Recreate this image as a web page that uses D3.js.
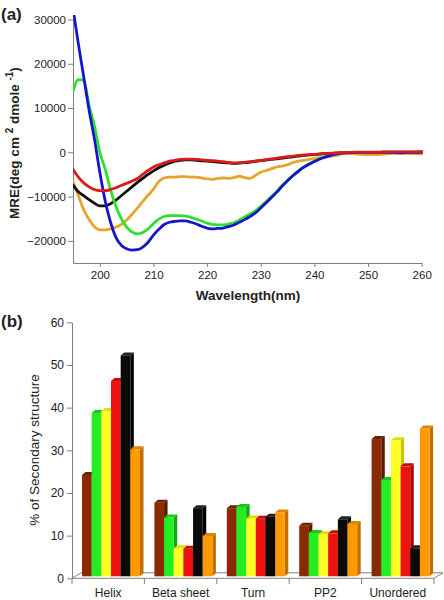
<!DOCTYPE html>
<html><head><meta charset="utf-8">
<script src="https://cdn.jsdelivr.net/npm/d3@7"></script>
<style>body{margin:0;background:#fff} text{font-family:"Liberation Sans",Arial,sans-serif;fill:#222}</style>
</head><body><svg id="c" width="444" height="600"></svg>
<script>
// ---------- Panel (a) data ----------
const wavelengths = [195,196,197,198,199,200,201,202,203,204,205,206,207,208,209,210,211,212,213,214,215,216,217,218,219,220,221,222,223,224,225,226,227,228,229,230,231,232,233,234,235,236,237,238,239,240,241,242,243,244,245,246,248,250,252,254,256,258,260];
const blueMRE = [32500,24500,17000,9500,3000,-4500,-11000,-15800,-19200,-21000,-21800,-22100,-22000,-21400,-20300,-18700,-17400,-16300,-15800,-15600,-15500,-15500,-15800,-16200,-16700,-17100,-17300,-17200,-17100,-16800,-16400,-15800,-15200,-14500,-13700,-12600,-11400,-10200,-9000,-7600,-6400,-5300,-4300,-3400,-2700,-2100,-1500,-1100,-700,-400,-200,-100,0,0,0,0,-100,0,0];
const greenMRE = [13700,16400,16300,10500,6000,0,-3800,-8500,-12200,-15000,-16900,-18000,-18400,-18100,-17300,-16100,-15100,-14500,-14300,-14300,-14300,-14400,-14700,-15100,-15500,-16000,-16300,-16400,-16400,-16200,-15900,-15300,-14600,-13900,-13200,-12200,-11100,-10000,-8800,-7500,-6300,-5200,-4200,-3300,-2600,-2000,-1400,-1000,-600,-300,-150,-50,0,0,0,0,0,0,0];
const blackMRE = [-7400,-8900,-9800,-10700,-11500,-12100,-12100,-11600,-10800,-9800,-8800,-7800,-6800,-5900,-5000,-4200,-3500,-2900,-2400,-2000,-1800,-1700,-1700,-1800,-1900,-2000,-2100,-2200,-2300,-2400,-2500,-2450,-2350,-2200,-2050,-1900,-1750,-1600,-1450,-1300,-1150,-1000,-850,-700,-600,-500,-400,-300,-250,-200,-100,-50,0,0,0,50,50,50,100];
const redMRE = [-3800,-5600,-6900,-7800,-8400,-8650,-8650,-8400,-8000,-7500,-7000,-6500,-5900,-5000,-4100,-3300,-2800,-2400,-2000,-1800,-1600,-1550,-1550,-1600,-1700,-1800,-1900,-2000,-2100,-2250,-2400,-2350,-2250,-2100,-1950,-1800,-1650,-1500,-1300,-1150,-1000,-850,-700,-600,-500,-450,-350,-300,-200,-150,-50,0,50,50,50,100,100,100,150];
const orangeMRE = [-6600,-9800,-13000,-15200,-16800,-17500,-17500,-17300,-16900,-16300,-15300,-14000,-12600,-11100,-9700,-8300,-6600,-5800,-5600,-5600,-5500,-5500,-5600,-5600,-5800,-6000,-6100,-5900,-5800,-5900,-5700,-5400,-5700,-5900,-5200,-4500,-4100,-3700,-3300,-3100,-2800,-2300,-2000,-1800,-1600,-1400,-1200,-1100,-900,-700,-400,-300,-400,-500,-500,-300,-200,-300,-350];
const mreTicks = [-20000,-10000,0,10000,20000,30000];
const wlTicks = [200,210,220,230,240,250,260];

// ---------- Panel (b) data ----------
const categories = ["Helix","Beta sheet","Turn","PP2","Unordered"];
const sampleNames = ["S1","S2","S3","S4","S5","S6"];
const s1 = [24.0,17.5,16.2,12.1,32.4];
const s2 = [38.5,14.0,16.5,10.4,22.8];
const s3 = [39.0,6.8,13.8,10.1,32.1];
const s4 = [46.0,6.7,13.7,10.3,26.0];
const s5 = [52.0,16.2,14.2,13.6,6.8];
const s6 = [30.0,9.7,15.2,12.5,34.9];
const pctTicks = [0,10,20,30,40,50,60];

const svg = d3.select("#c");
const axisCol = "#808080";

// ================= Panel (a) =================
const xA = d3.scaleLinear().domain([195,260]).range([73,421.7]);
const yA = d3.scaleLinear().domain([-25000,30000]).range([263,19.5]);

svg.append("defs").append("clipPath").attr("id","clipA")
  .append("rect").attr("x",73).attr("y",15).attr("width",360).attr("height",248);

const gyA = svg.append("g").attr("transform","translate(73,0)")
  .call(d3.axisLeft(yA).tickValues(mreTicks).tickSize(5).tickSizeOuter(0).tickPadding(2).tickFormat(d3.format("d")));
const gxA = svg.append("g").attr("transform","translate(0,263)")
  .call(d3.axisBottom(xA).tickValues(wlTicks).tickSize(4).tickSizeOuter(0).tickPadding(4));
[gyA,gxA].forEach(g=>{
  g.selectAll("path,line").attr("stroke",axisCol);
  g.selectAll("text").style("font-size","11.5px").attr("fill","#222");
});

const lineGen = d3.line().x((d,i)=>xA(wavelengths[i])).y(d=>yA(d)).curve(d3.curveMonotoneX);
const curves = [
  {v:orangeMRE,c:"#e8a52e"},
  {v:blackMRE,c:"#111"},
  {v:greenMRE,c:"#2ee02e"},
  {v:blueMRE,c:"#1515cc"},
  {v:redMRE,c:"#dd1a1a"}
];
const gc = svg.append("g").attr("clip-path","url(#clipA)");
curves.forEach(s=>{
  gc.append("path").attr("d",lineGen(s.v)).attr("fill","none")
    .attr("stroke",s.c).attr("stroke-width",2.8).attr("stroke-linejoin","round").attr("stroke-linecap","round");
});

svg.append("text").attr("x",248).attr("y",300).attr("text-anchor","middle")
  .style("font-size","13.5px").style("font-weight","bold").text("Wavelength(nm)");
const yl = svg.append("text").attr("transform","translate(19,143) rotate(-90)").attr("text-anchor","middle")
  .style("font-size","13.5px").style("font-weight","bold");
yl.append("tspan").text("MRE(deg cm ");
yl.append("tspan").attr("dy",-6).style("font-size","10px").text("2");
yl.append("tspan").attr("dy",6).text(" dmole ");
yl.append("tspan").attr("dy",-6).style("font-size","10px").text("-1");
yl.append("tspan").attr("dy",6).text(")");
svg.append("text").attr("x",1).attr("y",20).style("font-size","17px").style("font-weight","bold").text("(a)");

// ================= Panel (b) =================
const yB = d3.scaleLinear().domain([0,60]).range([578.3,322.3]);
const x0 = d3.scaleBand().domain(categories).range([72,434]);
const x1 = d3.scaleBand().domain(sampleNames).range([10,68]);
const seriesB = [s1,s2,s3,s4,s5,s6];
const frontCol = ["#8a2a02","#22ee22","#ffff26","#ee1111","#0a0a0a","#ff9a00"];
const sideCol  = ["#5a1a00","#13a813","#c4c400","#a80808","#000","#c07000"];
const topCol   = ["#6e2200","#1cc41c","#e0e000","#c40c0c","#222","#e08400"];

// floor
const dX = 9, dY = -5.5;
svg.append("path")
  .attr("d",`M72,578.3 L${72+dX},${578.3+dY} L${434+dX},${578.3+dY} L434,578.3`)
  .attr("fill","none").attr("stroke",axisCol).attr("stroke-width",1);

const bw = x1.bandwidth(), bdx = 3.5, bdy = -3, base = yB(0) - 2;
const gb = svg.append("g");
categories.forEach((cat,ci)=>{
  sampleNames.forEach((sn,si)=>{
    const x = x0(cat) + x1(sn);
    const yt = yB(seriesB[si][ci]) - 1;
    gb.append("path").attr("d",`M${x+bw},${yt} L${x+bw+bdx},${yt+bdy} L${x+bw+bdx},${base+bdy} L${x+bw},${base} Z`).attr("fill",sideCol[si]);
    gb.append("path").attr("d",`M${x},${yt} L${x+bdx},${yt+bdy} L${x+bw+bdx},${yt+bdy} L${x+bw},${yt} Z`).attr("fill",topCol[si]);
    gb.append("rect").attr("x",x).attr("y",yt).attr("width",bw).attr("height",base-yt).attr("fill",frontCol[si]);
  });
});

const gyB = svg.append("g").attr("transform","translate(72,0)")
  .call(d3.axisLeft(yB).tickValues(pctTicks).tickSize(5).tickSizeOuter(0).tickPadding(3));
gyB.selectAll("text").style("font-size","12px").attr("fill","#222");
gyB.selectAll("path,line").attr("stroke",axisCol);

// category boundary ticks and baseline
const bounds = categories.map(c=>x0(c)).concat([x0.range()[1]]);
svg.append("line").attr("x1",72).attr("x2",434).attr("y1",578.3).attr("y2",578.3).attr("stroke",axisCol);
svg.selectAll(".ct").data(bounds).enter().append("line")
  .attr("x1",d=>d).attr("x2",d=>d).attr("y1",578.3).attr("y2",584).attr("stroke",axisCol);
const gxB = svg.append("g").attr("transform","translate(0,585)")
  .call(d3.axisBottom(x0).tickSize(0).tickPadding(3));
gxB.select(".domain").remove();
gxB.selectAll("text").style("font-size","12px").attr("fill","#222");

svg.append("text").attr("transform","translate(39,450) rotate(-90)").attr("text-anchor","middle")
  .style("font-size","13.5px").text("% of Secondary structure");
svg.append("text").attr("x",1).attr("y",327).style("font-size","17px").style("font-weight","bold").text("(b)");
</script></body></html>
